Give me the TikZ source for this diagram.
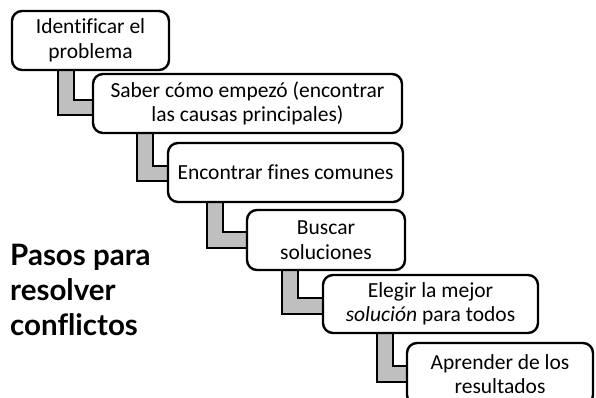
\documentclass[tikz,border=0pt]{standalone}
\usepackage{fontspec}
\setmainfont{Carlito}[Ligatures=CommonOff]
\newfontfamily\titlefont{Lato}[Ligatures=CommonOff]
\usetikzlibrary{calc}
\definecolor{conngray}{RGB}{191,191,191}
\pgfdeclarelayer{background}
\pgfdeclarelayer{paper}
\pgfsetlayers{paper,background,main}
\begin{document}
\begin{tikzpicture}[x=1pt,y=-1pt,
  box/.style={draw=black, line width=2.4pt, rounded corners=10pt, fill=white,
    inner sep=0pt, outer sep=0pt, align=center, font=\fontsize{21.5}{24.5}\selectfont},
  conn/.style={draw=black, line width=2.2pt, double=conngray, double distance=13.5pt, line join=miter},
  title/.style={anchor=north west, align=left, inner sep=0pt, font=\titlefont\bfseries\fontsize{29.5}{35}\selectfont}]
\useasboundingbox (0,0) rectangle (596,398);
\begin{pgfonlayer}{paper}
\fill[white] (0,0) rectangle (596,398);
\end{pgfonlayer}

\node[box, minimum width=157pt, minimum height=59pt] (b1) at (90.5,40.5) {Identificar el\\problema};
\node[box, minimum width=309pt, minimum height=59pt] (b2) at (247.5,103.5) {Saber cómo empezó (encontrar\\las causas principales)};
\node[box, minimum width=235pt, minimum height=59pt] (b3) at (285.5,172.5) {Encontrar fines comunes};
\node[box, minimum width=158pt, minimum height=60pt] (b4) at (326,240) {Buscar\\soluciones};
\node[box, minimum width=215pt, minimum height=58pt] (b5) at (430.5,304) {Elegir la mejor\\\textit{solución} para todos};
\node[box, minimum width=186pt, minimum height=62pt] (b6) at (500,374) {Aprender de los\\resultados};

\begin{pgfonlayer}{background}
\draw[conn] ([xshift=54pt,yshift=4pt]b1.south west) |- ([xshift=4pt,yshift=-33.5pt]b2.north west);
\draw[conn] ([xshift=52pt,yshift=4pt]b2.south west) |- ([xshift=4pt,yshift=-30.5pt]b3.north west);
\draw[conn] ([xshift=47pt,yshift=4pt]b3.south west) |- ([xshift=4pt,yshift=-30pt]b4.north west);
\draw[conn] ([xshift=43pt,yshift=4pt]b4.south west) |- ([xshift=4pt,yshift=-31pt]b5.north west);
\draw[conn] ([xshift=62pt,yshift=4pt]b5.south west) |- ([xshift=4pt,yshift=-31pt]b6.north west);
\end{pgfonlayer}

\node[title] (t) at (10,244) {Pasos para\\resolver\\conflictos};
\end{tikzpicture}
\end{document}
